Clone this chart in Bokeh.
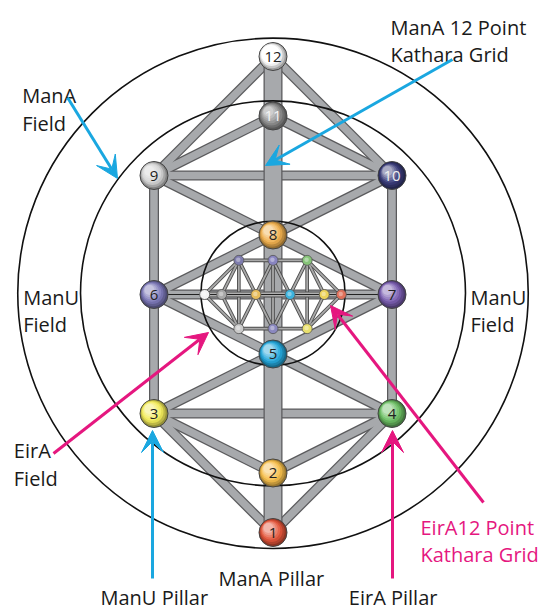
from bokeh.plotting import figure
from bokeh.models import Range1d, Arrow, VeeHead
from bokeh.core.properties import value
from bokeh.embed import file_html
from bokeh.resources import INLINE

# ---------------- data ----------------
node_ids = [1, 2, 3, 4, 5, 6, 7, 8, 9, 10, 11, 12]
node_x = [0, 0, -2, 2, 0, -2, 2, 0, -2, 2, 0, 0]
node_level = [0, 1, 2, 2, 3, 4, 4, 5, 6, 6, 7, 8]
node_colors = ["#e4553a", "#f7c04c", "#f3ec5a", "#6cbf64", "#25a8dc", "#7c78b8",
               "#7a5db0", "#f0b04e", "#d4d4d4", "#3a3c7a", "#8e8e8e", "#ffffff"]
node_text_colors = ["#222222"] * 9 + ["#f0f0f0", "#f4f4f4", "#222222"]
small_colors = ["#e0705a", "#edd35a", "#e9e06c", "#86c478", "#3cb2dc", "#8a88bf",
                "#8884c0", "#e6bc5c", "#cacaca", "#7e7cae", "#a8a8a8", "#f2f2f2"]
pillar = (12, 1)
beams = [(12, 9), (12, 10), (11, 9), (11, 10), (9, 10), (9, 6), (10, 7), (9, 8),
         (10, 8), (8, 6), (8, 7), (6, 7), (6, 5), (7, 5), (6, 3), (7, 4), (5, 3),
         (5, 4), (3, 4), (3, 2), (4, 2), (3, 1), (4, 1)]
field_names = ["ManA Field", "ManU Field", "EirA Field"]
field_radii = [4.29, 3.235, 1.21]
small_scale = 0.287

# ---------------- geometry helpers ----------------
U = 59.5            # pixels per grid unit
CX, CY = 272.5, 294.0
W, H = 544, 612


def px(x, y):
    return (x - CX) / U, (CY - y) / U


big = {n: (x, l - 4) for n, x, l in zip(node_ids, node_x, node_level)}
small = {n: (-(l - 4) * small_scale, x * small_scale)
         for n, x, l in zip(node_ids, node_x, node_level)}

x0, y1 = px(0, 0)
x1, y0 = px(W, H)
p = figure(width=W, height=H, x_range=Range1d(x0, x1), y_range=Range1d(y0, y1),
           x_axis_type=None, y_axis_type=None, output_backend="svg",
           toolbar_location=None, min_border=0)
p.grid.visible = False
p.outline_line_color = None
p.background_fill_color = "white"
p.border_fill_color = "white"


def segs(pos, pairs):
    xs = [[pos[a][0], pos[b][0]] for a, b in pairs]
    ys = [[pos[a][1], pos[b][1]] for a, b in pairs]
    return xs, ys


def mix(c, t):
    r, g, b = int(c[1:3], 16), int(c[3:5], 16), int(c[5:7], 16)
    if t >= 0:
        r, g, b = [int(v + (255 - v) * t) for v in (r, g, b)]
    else:
        r, g, b = [int(v * (1 + t)) for v in (r, g, b)]
    return "#%02x%02x%02x" % (r, g, b)


OUT = "#5a5a5c"
FILL = "#a7a9ac"

# big beams
bx, by = segs(big, beams)
p.multi_line(bx, by, line_color=OUT, line_width=10)
p.multi_line(bx, by, line_color=FILL, line_width=7.5)
# central pillar
px_, py_ = segs(big, [pillar])
p.multi_line(px_, py_, line_color=OUT, line_width=19)
p.multi_line(px_, py_, line_color=FILL, line_width=16.5)
# thin line along 6-7
lx, ly = segs(big, [(6, 7)])
p.multi_line(lx, ly, line_color="#222222", line_width=1.2)

# field circles
for r in field_radii:
    p.circle(x=[0], y=[0.02], radius=[r], fill_color=None, line_color="#111111",
             line_width=1.6)

# small grid
sx, sy = segs(small, beams)
p.multi_line(sx, sy, line_color="#4a4a4a", line_width=3.6)
p.multi_line(sx, sy, line_color="#a9a9a9", line_width=1.8)
spx, spy = segs(small, [pillar])
p.multi_line(spx, spy, line_color="#4a4a4a", line_width=6)
p.multi_line(spx, spy, line_color="#b0b0b0", line_width=4)
p.multi_line(spx, spy, line_color="#222222", line_width=1)
p.scatter([small[n][0] for n in node_ids], [small[n][1] for n in node_ids],
          size=10, fill_color=small_colors, line_color="#555555", line_width=0.8)
p.scatter([small[n][0] - 0.01 for n in node_ids], [small[n][1] + 0.01 for n in node_ids],
          size=4.5, fill_color=[mix(c, 0.45) for c in small_colors], line_color=None,
          fill_alpha=0.8)

# big nodes with sphere shading
nxs = [big[n][0] for n in node_ids]
nys = [big[n][1] for n in node_ids]
layers = 7
for k in range(layers):
    t = -0.38 + k * (0.95 / (layers - 1))
    size = 28 - k * 3.0
    off = k * 0.75 / U
    cols = [mix(c, t) if t < 0 else mix(c, min(t, 0.6)) for c in node_colors]
    p.scatter([x - off for x in nxs], [y + off for y in nys], size=size,
              fill_color=cols, line_color="#444444" if k == 0 else None,
              line_width=1.0)

p.text(nxs, [y - 0.005 for y in nys], text=[str(n) for n in node_ids],
       text_color=node_text_colors, text_font=value("Open Sans"),
       text_font_size="15px", text_align="center", text_baseline="middle")

# ---------------- annotations ----------------
BLUE = "#1aa7e0"
PINK = "#e5177f"
arrows = [
    ((67, 97), (117, 178), BLUE),
    ((452, 59), (265, 165), BLUE),
    ((152, 578), (152, 430), BLUE),
    ((53, 453), (208, 332), PINK),
    ((483, 502), (330, 305), PINK),
    ((392, 578), (392, 430), PINK),
]
for (sxp, syp), (exp, eyp), c in arrows:
    xs0, ys0 = px(sxp, syp)
    xe, ye = px(exp, eyp)
    p.add_layout(Arrow(end=VeeHead(size=22, fill_color=c, line_color=c, line_width=1),
                       x_start=xs0, y_start=ys0, x_end=xe, y_end=ye,
                       line_color=c, line_width=3))

labels = [
    ("ManA 12 Point", 390, 26.7, "#1a1a1a"),
    ("Kathara Grid", 390, 54.3, "#1a1a1a"),
    ("ManA", 21.7, 95, "#1a1a1a"),
    ("Field", 21.7, 122.7, "#1a1a1a"),
    ("ManU", 22.7, 296.7, "#1a1a1a"),
    ("Field", 22.7, 324, "#1a1a1a"),
    ("ManU", 470, 297, "#1a1a1a"),
    ("Field", 470, 324, "#1a1a1a"),
    ("EirA", 13.3, 450, "#1a1a1a"),
    ("Field", 13.3, 477.7, "#1a1a1a"),
    ("ManU Pillar", 100, 597, "#1a1a1a"),
    ("ManA Pillar", 218, 578, "#1a1a1a"),
    ("EirA Pillar", 348.3, 597, "#1a1a1a"),
    ("EirA12 Point", 420, 527, PINK),
    ("Kathara Grid", 420, 554, PINK),
]
lx_ = [px(a, b)[0] for _, a, b, _ in labels]
ly_ = [px(a, b)[1] for _, a, b, _ in labels]
p.text(lx_, ly_, text=[t for t, _, _, _ in labels], text_color=[c for _, _, _, c in labels],
       text_font=value("Open Sans"), text_font_size="20px", text_align="left",
       text_baseline="alphabetic")

open("out.html", "w").write(file_html(p, INLINE))
